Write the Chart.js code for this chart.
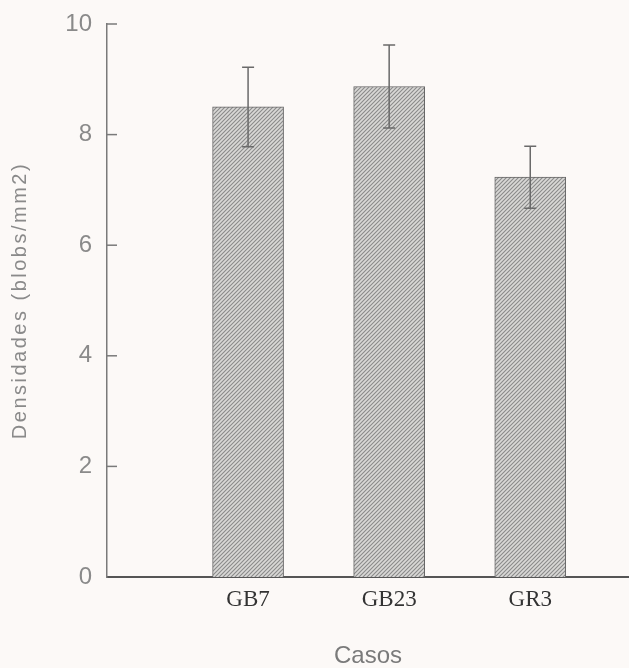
<!DOCTYPE html>
<html>
<head>
<meta charset="utf-8">
<script src="https://cdn.jsdelivr.net/npm/chart.js@4.4.1/dist/chart.umd.min.js"></script>
<style>
  html, body { margin: 0; padding: 0; background: #fcf9f7; }
  #wrap { width: 629px; height: 668px; position: relative; }
</style>
</head>
<body>
<div id="wrap"><canvas id="chart" width="629" height="668"></canvas></div>
<script>
// data
const categories = ['GB7', 'GB23', 'GR3'];
const positions = [1, 2, 3];
const densities = [8.5, 8.87, 7.23];
const errors = [0.72, 0.75, 0.56];
const yTicks = [0, 2, 4, 6, 8, 10];

const AXIS_GREY = '#7a7a7a';

// hatched fill like the scanned bars
function makeHatch() {
    const c = document.createElement('canvas');
    c.width = 4; c.height = 4;
    const p = c.getContext('2d');
    p.fillStyle = '#d9d8d6';
    p.fillRect(0, 0, 4, 4);
    p.strokeStyle = '#8a8a8a';
    p.lineWidth = 1.1;
    p.beginPath();
    p.moveTo(0, 4); p.lineTo(4, 0);
    p.moveTo(-1, 1); p.lineTo(1, -1);
    p.moveTo(3, 5); p.lineTo(5, 3);
    p.stroke();
    const ctx = document.getElementById('chart').getContext('2d');
    return ctx.createPattern(c, 'repeat');
}

const paperBg = {
    id: 'paperBg',
    beforeDraw(chart) {
        const ctx = chart.ctx;
        ctx.save();
        ctx.fillStyle = '#fcf9f7';
        ctx.fillRect(0, 0, chart.width, chart.height);
        ctx.restore();
    }
};

// short inward ticks on the y axis
const innerTicks = {
    id: 'innerTicks',
    afterDraw(chart) {
        const y = chart.scales.y;
        const ctx = chart.ctx;
        ctx.save();
        ctx.strokeStyle = AXIS_GREY;
        ctx.lineWidth = 1.5;
        y.ticks.forEach(t => {
            if (t.value === 0) return;
            const py = y.getPixelForValue(t.value);
            ctx.beginPath();
            ctx.moveTo(y.right, py);
            ctx.lineTo(y.right + 10, py);
            ctx.stroke();
        });
        ctx.restore();
    }
};

const errorBars = {
    id: 'errorBars',
    afterDatasetsDraw(chart) {
        const x = chart.scales.x, y = chart.scales.y;
        const ctx = chart.ctx;
        ctx.save();
        ctx.strokeStyle = '#6a6a6a';
        ctx.lineWidth = 1.5;
        densities.forEach((v, i) => {
            const px = x.getPixelForValue(positions[i]);
            const top = y.getPixelForValue(v + errors[i]);
            const bot = y.getPixelForValue(v - errors[i]);
            ctx.beginPath();
            ctx.moveTo(px, top); ctx.lineTo(px, bot);
            ctx.moveTo(px - 6, top); ctx.lineTo(px + 6, top);
            ctx.moveTo(px - 6, bot); ctx.lineTo(px + 6, bot);
            ctx.stroke();
        });
        ctx.restore();
    }
};

// rotated y title with the slightly open letter spacing of the original
const yTitle = {
    id: 'yTitle',
    afterDraw(chart) {
        const area = chart.chartArea;
        const ctx = chart.ctx;
        ctx.save();
        ctx.translate(20, (area.top + area.bottom) / 2);
        ctx.rotate(-Math.PI / 2);
        ctx.font = '20px "Liberation Sans", Arial, sans-serif';
        ctx.letterSpacing = '2.5px';
        ctx.fillStyle = '#8a8a8a';
        ctx.textAlign = 'center';
        ctx.textBaseline = 'middle';
        ctx.fillText('Densidades (blobs/mm2)', 0, 0);
        ctx.restore();
    }
};

new Chart(document.getElementById('chart'), {
    type: 'bar',
    data: {
        datasets: [{
            data: positions.map((p, i) => ({ x: p, y: densities[i] })),
            backgroundColor: makeHatch(),
            borderColor: '#666',
            borderWidth: 1,
            barThickness: 71
        }]
    },
    options: {
        responsive: false,
        animation: false,
        layout: { padding: { top: 24, right: 0, left: 0, bottom: 0 } },
        plugins: { legend: { display: false }, tooltip: { enabled: false } },
        scales: {
            x: {
                type: 'linear',
                offset: false,
                min: 0,
                max: 3.7,
                afterBuildTicks(scale) {
                    scale.ticks = positions.map(v => ({ value: v }));
                },
                afterFit(scale) { scale.height = 91; },
                ticks: {
                    autoSkip: false,
                    maxRotation: 0,
                    padding: 11,
                    color: '#333',
                    font: { family: '"Liberation Serif", "Times New Roman", serif', size: 23, lineHeight: 1 },
                    callback: v => categories[positions.indexOf(v)] || ''
                },
                grid: { display: false, drawTicks: false },
                border: { display: true, color: '#555', width: 2 },
                title: {
                    display: true,
                    text: 'Casos',
                    color: '#7a7a7a',
                    font: { family: '"Liberation Sans", Arial, sans-serif', size: 24, lineHeight: 1 },
                    padding: { top: 34, bottom: 0 }
                }
            },
            y: {
                min: 0,
                max: 10,
                afterBuildTicks(scale) {
                    scale.ticks = yTicks.map(v => ({ value: v }));
                },
                afterFit(scale) {
                    scale.width = 107;
                    scale.paddingTop = 0;
                },
                ticks: {
                    padding: 15,
                    color: '#8a8a8a',
                    font: { family: '"Liberation Sans", Arial, sans-serif', size: 24, lineHeight: 1 }
                },
                grid: { display: false, drawTicks: false },
                border: { display: true, color: AXIS_GREY, width: 1.5 }
            }
        }
    },
    plugins: [paperBg, innerTicks, errorBars, yTitle]
});
</script>
</body>
</html>
